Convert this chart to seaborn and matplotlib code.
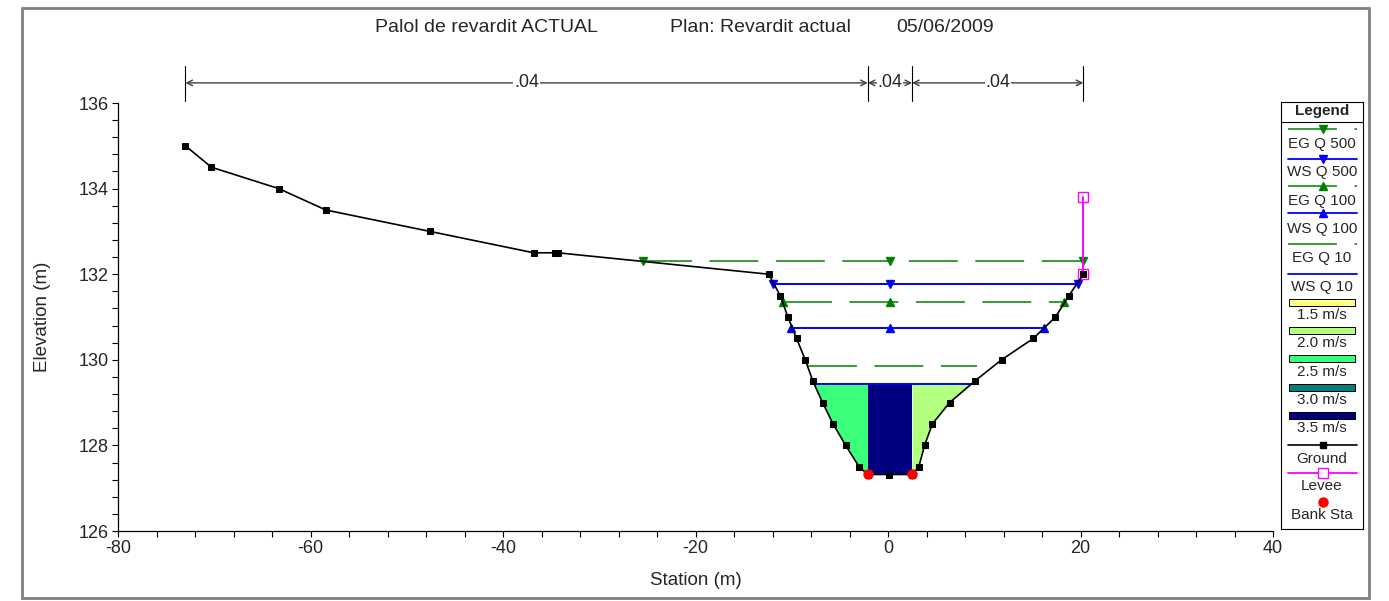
import numpy as np
import matplotlib
matplotlib.use("Agg")
import matplotlib.pyplot as plt
from matplotlib.patches import Rectangle
from matplotlib.ticker import MultipleLocator
import seaborn as sns

# ground profile (station m, elevation m)
ground_x = [-73.0, -70.3, -63.3, -58.4, -47.6, -36.8, -34.6, -34.3, -12.4, -11.2,
            -10.4, -9.5, -8.6, -7.8, -6.8, -5.7, -4.4, -3.0, -2.1, 0.1,
            2.5, 3.2, 3.8, 4.6, 6.4, 9.0, 11.8, 15.1, 17.4, 18.8, 20.3]
ground_y = [135.0, 134.5, 134.0, 133.5, 133.0, 132.5, 132.5, 132.5, 132.0, 131.5,
            131.0, 130.5, 130.0, 129.5, 129.0, 128.5, 128.0, 127.5, 127.32, 127.32,
            127.32, 127.5, 128.0, 128.5, 129.0, 129.5, 130.0, 130.5, 131.0, 131.5, 132.0]

# bank stations
bank_x = [-2.1, 2.5]
bank_y = [127.34, 127.34]

# levee (right)
levee_x = [20.3, 20.3]
levee_y = [132.0, 133.8]

# water surfaces / energy grades
prof_names = ["EG Q 500", "WS Q 500", "EG Q 100", "WS Q 100", "EG Q 10", "WS Q 10"]
prof_elev = [132.31, 131.77, 131.35, 130.74, 129.86, 129.43]
prof_left = [-25.5, -11.9, -10.9, -10.1, -8.3, -7.66]
prof_right = [20.3, 19.7, 18.3, 16.2, 9.2, 8.64]
prof_mid = 0.2

# manning n
n_sta = [-73.0, -2.1, 2.5, 20.3]
n_val = [".04", ".04", ".04"]

# velocity legend
vel_labels = ["1.5 m/s", "2.0 m/s", "2.5 m/s", "3.0 m/s", "3.5 m/s"]
vel_colors = ["#FFFF80", "#B4FF80", "#3AFF7A", "#008080", "#000080"]
# colour index of each flow section (left overbank, channel, right overbank)
sect_color = [2, 4, 1]

GREEN = "#008000"
BLUE = "#0000FF"
MAG = "#FF00FF"
EG_DASH = (0, (32, 11.5))

sns.set_style("ticks")
plt.rcParams['font.family'] = ['Liberation Sans', 'DejaVu Sans']
plt.rcParams['axes.unicode_minus'] = False

fig = plt.figure(figsize=(13.89, 6.01), dpi=100)
W, H = 1389, 601
ax = fig.add_axes([118 / W, 1 - 531 / H, (1273 - 118) / W, (531 - 103) / H])

gx = np.array(ground_x)
gy = np.array(ground_y)
ws10 = prof_elev[5]

# velocity distribution fill under WS Q 10, one section at a time
edges = [prof_left[5], bank_x[0], bank_x[1], prof_right[5]]
for k in range(3):
    a, b = edges[k], edges[k + 1]
    inner = gx[(gx > a) & (gx < b)]
    xs = np.concatenate([[a], inner, [b]])
    ys = np.interp(xs, gx, gy)
    ax.fill_between(xs, ys, ws10, color=vel_colors[sect_color[k]], lw=0, zorder=1)

# profiles
for name, e, xl, xr in zip(prof_names, prof_elev, prof_left, prof_right):
    is_eg = name.startswith("EG")
    col = GREEN if is_eg else BLUE
    ls = EG_DASH if is_eg else "-"
    if "500" in name:
        mk = "v"
    elif "100" in name:
        mk = "^"
    else:
        mk = None
    xs = [xl, prof_mid, xr] if mk else [xl, xr]
    ax.plot(xs, [e] * len(xs), color=col, ls=ls, lw=1.1 if is_eg else 1.4,
            marker=mk, ms=6, zorder=3)

# levee
ax.plot(levee_x, levee_y, color=MAG, lw=1.4, marker="s", ms=7, mfc="none",
        mec=MAG, zorder=4)

# ground
sns.lineplot(x=gx, y=gy, ax=ax, color="black", lw=1.2, marker="s", markersize=5,
             markeredgecolor="black", sort=False, estimator=None, zorder=5)

# bank stations
ax.plot(bank_x, bank_y, ls="none", marker="o", color="red", ms=6.5, zorder=6)

ax.set_xlim(-80, 40)
ax.set_ylim(126, 136)
ax.xaxis.set_major_locator(MultipleLocator(20))
ax.xaxis.set_minor_locator(MultipleLocator(4))
ax.yaxis.set_major_locator(MultipleLocator(2))
ax.yaxis.set_minor_locator(MultipleLocator(0.4))
ax.tick_params(which="both", direction="out", width=0.8, color="black",
               labelsize=13, pad=2)
ax.tick_params(which="major", length=4.5)
ax.tick_params(which="minor", length=4)
for s in ["top", "right"]:
    ax.spines[s].set_visible(False)
for s in ["left", "bottom"]:
    ax.spines[s].set_linewidth(0.9)
    ax.spines[s].set_color("black")
ax.set_facecolor("white")

ax.set_xlabel("Station (m)", fontsize=13.5)
ax.set_ylabel("Elevation (m)", fontsize=13.5)
ax.xaxis.set_label_coords(0.5, -0.095)
ax.yaxis.set_label_coords(-0.058, 0.5)

# manning n bar above the plot
ybar = 136.47
for s in n_sta:
    ax.plot([s, s], [136.05, 136.86], color="black", lw=0.8, clip_on=False)
for a, b, lab in zip(n_sta[:-1], n_sta[1:], n_val):
    ax.annotate("", xy=(b, ybar), xytext=(a, ybar), annotation_clip=False,
                arrowprops=dict(arrowstyle="<->", color="#404040", lw=1.0,
                                shrinkA=0, shrinkB=0, mutation_scale=10))
    ax.text((a + b) / 2, ybar, lab, ha="center", va="center", fontsize=13,
            clip_on=False, bbox=dict(fc="white", ec="none", pad=0.5))

# title pieces
fig.text(375 / W, 1 - 27 / H, "Palol de revardit ACTUAL", fontsize=14, va="center")
fig.text(670 / W, 1 - 27 / H, "Plan: Revardit actual", fontsize=14, va="center")
fig.text(896 / W, 1 - 27 / H, "05/06/2009", fontsize=14, va="center")

# outer frame
fig.patches.append(Rectangle((22 / W, 1 - 598 / H), (1369 - 22) / W, (598 - 8) / H,
                             transform=fig.transFigure, fill=False,
                             ec="#808080", lw=2))

# legend box (drawn in its own axes, pixel units)
lax = fig.add_axes([1281 / W, 1 - 529 / H, 82 / W, 427 / H])
lax.set_xlim(0, 82)
lax.set_ylim(427, 0)
lax.set_xticks([])
lax.set_yticks([])
for s in lax.spines.values():
    s.set_linewidth(0.8)
    s.set_color("black")
lax.text(41, 9.5, "Legend", ha="center", va="center", fontsize=11, fontweight="bold")
lax.plot([0, 82], [19.5, 19.5], color="black", lw=0.8)

sym_y = [27, 57, 84, 111, 142, 172]
txt_y = [42, 70, 99, 127, 156, 185]
for name, sy, ty in zip(prof_names, sym_y, txt_y):
    is_eg = name.startswith("EG")
    mk = "v" if "500" in name else ("^" if "100" in name else None)
    lax.plot([7, 76], [sy, sy], color=GREEN if is_eg else BLUE,
             ls=EG_DASH if is_eg else "-", lw=1.1 if is_eg else 1.3)
    if mk:
        lax.plot([42], [sy], ls="none", marker=mk, ms=6, color=GREEN if is_eg else BLUE)
    lax.text(41, ty, name, ha="center", va="center", fontsize=11)

rect_y = [200, 228, 256, 285, 313]
rtxt_y = [213, 241, 270, 298, 326]
for lab, col, ry, ty in zip(vel_labels, vel_colors, rect_y, rtxt_y):
    lax.add_patch(Rectangle((8, ry - 3.5), 66, 7, fc=col, ec="black", lw=0.7))
    lax.text(41, ty, lab, ha="center", va="center", fontsize=11)

lax.plot([7, 76], [343, 343], color="black", lw=1.2)
lax.plot([42], [343], marker="s", ms=5, color="black")
lax.text(41, 357, "Ground", ha="center", va="center", fontsize=11)
lax.plot([7, 76], [371, 371], color=MAG, lw=1.3)
lax.plot([42], [371], marker="s", ms=7, mfc="white", mec=MAG)
lax.text(41, 384, "Levee", ha="center", va="center", fontsize=11)
lax.plot([42], [400], marker="o", ms=6.5, color="red")
lax.text(41, 413, "Bank Sta", ha="center", va="center", fontsize=11)

fig.savefig("out.png", dpi=100)
